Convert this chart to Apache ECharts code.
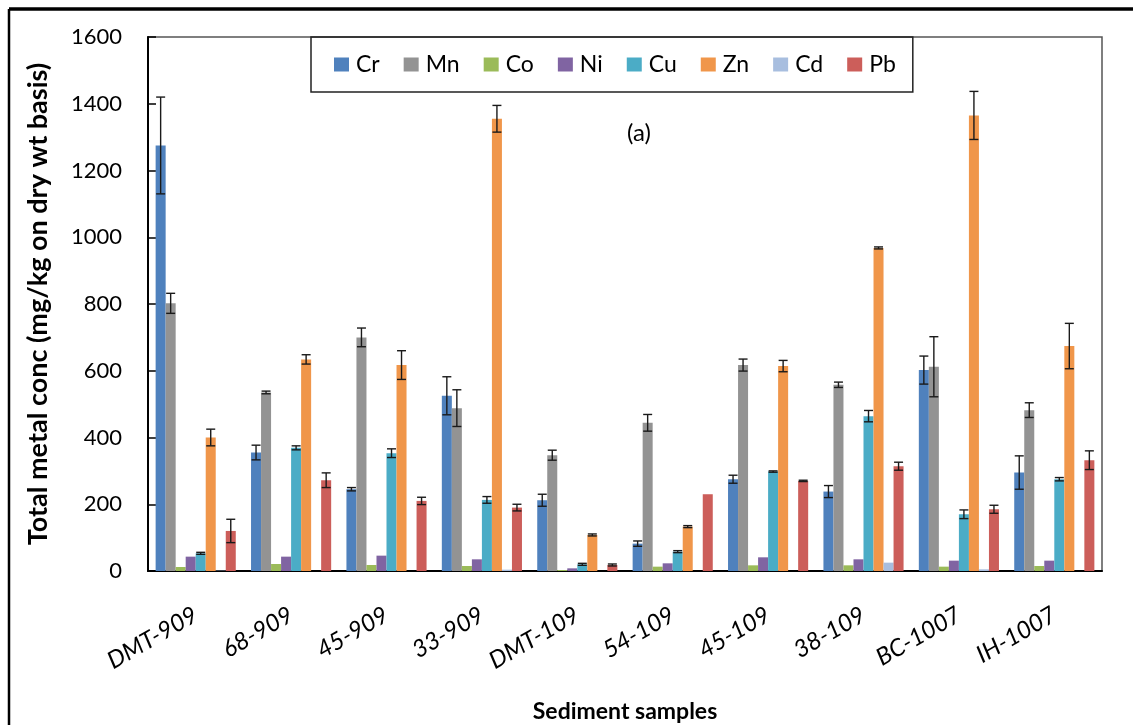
<!DOCTYPE html>
<html>
<head>
<meta charset="utf-8">
<script src="https://cdn.jsdelivr.net/npm/echarts@6/dist/echarts.min.js"></script>
<style>
html,body{margin:0;padding:0;background:#fff;}
#c{width:1133px;height:725px;}
</style>
</head>
<body>
<div id="c"></div>
<script>
const categories = ['DMT-909','68-909','45-909','33-909','DMT-109','54-109','45-109','38-109','BC-1007','IH-1007'];
const metals = ['Cr','Mn','Co','Ni','Cu','Zn','Cd','Pb'];
const yTicks = [0,200,400,600,800,1000,1200,1400,1600];

const Cr    = [1275, 355, 245, 525, 212,  82, 275, 238, 602, 295];
const CrErr = [ 145,  22,   5,  57,  18,   8,  12,  18,  42,  50];
const Mn    = [ 802, 535, 700, 488, 347, 444, 617, 558, 612, 482];
const MnErr = [  30,   4,  28,  55,  15,  25,  18,   8,  90,  22];
const Co    = [  12,  21,  18,  15,   3,  13,  17,  17,  13,  15];
const Ni    = [  43,  43,  46,  35,   8,  23,  41,  35,  31,  31];
const Cu    = [  53, 369, 353, 213,  20,  58, 298, 464, 170, 275];
const CuErr = [   3,   6,  13,  10,   3,   3,   2,  17,  13,   5];
const Zn    = [ 400, 634, 617,1355, 108, 133, 614, 968,1365, 674];
const ZnErr = [  25,  14,  43,  40,   3,   3,  17,   3,  72,  68];
const Cd    = [   1,   0,   0,   4,   0,   0,   0,  25,   5,   0];
const Pb    = [ 120, 272, 210, 190,  18, 230, 270, 314, 185, 332];
const PbErr = [  35,  22,  11,  10,   3,   0,   2,  12,  12,  28];

const values = [Cr, Mn, Co, Ni, Cu, Zn, Cd, Pb];
const errors = [CrErr, MnErr, null, null, CuErr, ZnErr, null, PbErr];
const colors = ['#4F81BD','#939393','#9BBB59','#8064A2','#4BACC6','#F0964A','#A8BEDF','#CC5E5A'];

const GAP = 0.16;
const FONT = 'Lato';

const series = [];
metals.forEach((m, i) => {
  series.push({
    name: m, type: 'bar', data: values[i],
    barGap: '0%', barCategoryGap: (GAP*100)+'%',
    itemStyle: {color: colors[i]},
    emphasis: {disabled: true}
  });
});
metals.forEach((m, i) => {
  const err = errors[i];
  if (!err) return;
  series.push({
    name: m + ' error', type: 'custom', z: 5, silent: true,
    data: categories.map((c, k) => [k, values[i][k], err[k]]),
    renderItem: function (params, api) {
      const k = api.value(0), v = api.value(1), e = api.value(2);
      if (!(e > 0)) return null;
      const band = api.size([1, 0])[0];
      const gw = band * (1 - GAP);
      const bw = gw / metals.length;
      const c = api.coord([k, v]);
      const x = c[0] - gw / 2 + (i + 0.5) * bw;
      const yt = api.coord([k, v + e])[1];
      const yb = api.coord([k, Math.max(0, v - e)])[1];
      const hw = 4.5;
      const st = {stroke: '#1a1a1a', lineWidth: 1.4};
      return {type: 'group', children: [
        {type: 'line', shape: {x1: x, y1: yt, x2: x, y2: yb}, style: st},
        {type: 'line', shape: {x1: x - hw, y1: yt, x2: x + hw, y2: yt}, style: st},
        {type: 'line', shape: {x1: x - hw, y1: yb, x2: x + hw, y2: yb}, style: st}
      ]};
    }
  });
});

const chart = echarts.init(document.getElementById('c'), null, {renderer: 'canvas'});
chart.setOption({
  animation: false,
  backgroundColor: '#fff',
  textStyle: {fontFamily: FONT},
  grid: {left: 148, right: 31, top: 37, bottom: 154, containLabel: false, outerBoundsMode: 'none',
         show: true, borderColor: '#555', borderWidth: 1.5, backgroundColor: 'transparent'},
  legend: {
    data: metals, left: 311, top: 37, orient: 'horizontal',
    itemWidth: 15, itemHeight: 14, itemGap: 24, icon: 'rect',
    padding: [16, 17, 16, 23],
    borderColor: '#222', borderWidth: 1.5,
    textStyle: {fontFamily: FONT, fontSize: 23, color: '#000', padding: [0,0,0,2]},
    selectedMode: false
  },
  graphic: [
    {type: 'text', left: 627, top: 121, style: {text: '(a)', font: '24px ' + FONT, fill: '#000'}},
    {type: 'line', shape: {x1: 9, y1: 9, x2: 1133, y2: 9}, style: {stroke: '#000', lineWidth: 3.5}},
    {type: 'line', shape: {x1: 9, y1: 9, x2: 9, y2: 725}, style: {stroke: '#000', lineWidth: 2.5}}
  ],
  xAxis: {
    type: 'category', data: categories,
    name: 'Sediment samples', nameLocation: 'middle', nameGap: 129,
    nameTextStyle: {fontFamily: FONT, fontSize: 23, fontWeight: 'bold', color: '#000'},
    axisLine: {lineStyle: {color: '#000', width: 2}},
    axisTick: {inside: true, length: 8, lineStyle: {color: '#000', width: 2}},
    axisLabel: {interval: 0, rotate: 30, margin: 42, fontStyle: 'italic', fontSize: 24, color: '#000', fontFamily: FONT}
  },
  yAxis: {
    type: 'value', min: yTicks[0], max: yTicks[yTicks.length - 1], interval: 200,
    name: 'Total metal conc (mg/kg on dry wt basis)', nameLocation: 'middle', nameGap: 96, nameRotate: 90,
    nameTextStyle: {fontFamily: FONT, fontSize: 27, fontWeight: 'bold', color: '#000'},
    axisLine: {show: true, lineStyle: {color: '#000', width: 2}},
    axisTick: {show: true, inside: true, length: 8, lineStyle: {color: '#000', width: 1.5}},
    axisLabel: {fontSize: 22, color: '#000', margin: 26, fontFamily: FONT, formatter: function (v) { return String(v); }},
    splitLine: {show: false}
  },
  series: series
});
</script>
</body>
</html>
